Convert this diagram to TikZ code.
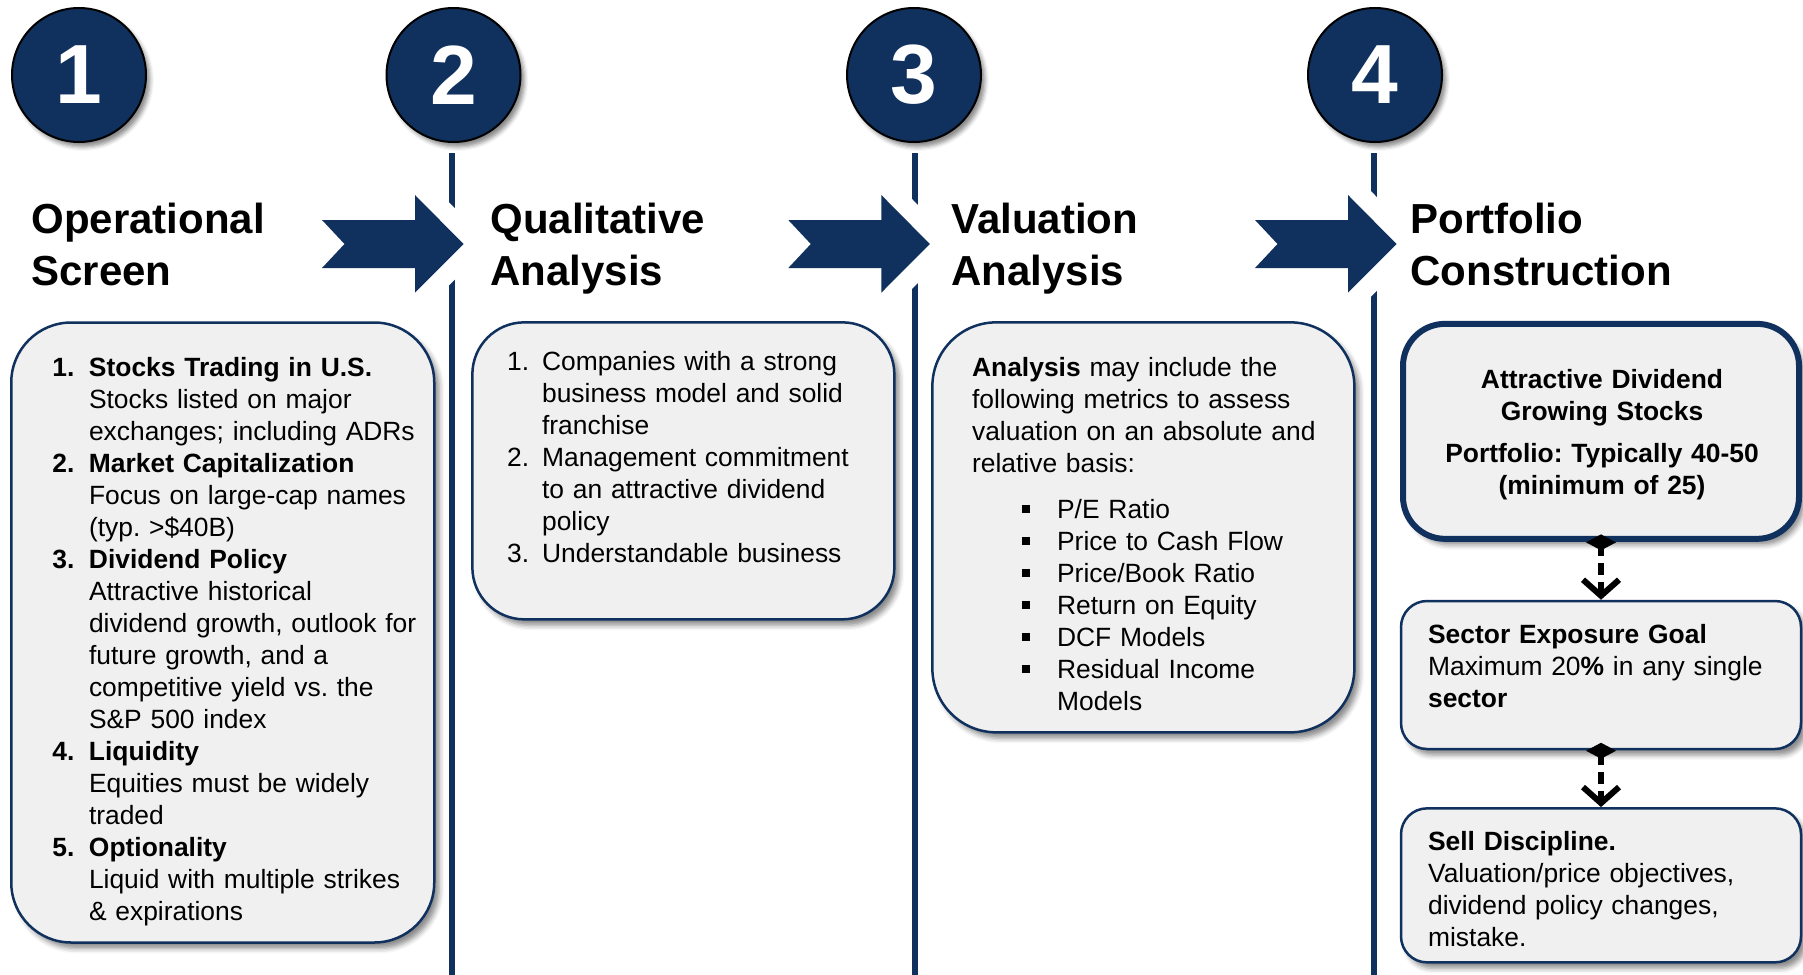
\documentclass[tikz,border=0pt]{standalone}
\usepackage{fontspec}
\setmainfont{Liberation Sans}
\usetikzlibrary{arrows.meta,shadows.blur}

\definecolor{navy}{HTML}{10315E}
\definecolor{panelgray}{HTML}{F0F0F0}

% one list entry: label in a box of width #1, wrapped lines hang under the text
\newcommand{\listline}[3]{\noindent\hangindent=#1\hangafter=1\makebox[#1][l]{#2}#3\par}
\newcommand{\sqbullet}{\hspace{25pt}\raisebox{2.7pt}{\rule{3.9pt}{3.9pt}}}

\tikzset{
  badge/.style={circle, fill=navy, draw=black, line width=1pt, minimum size=67pt, inner sep=0pt,
    text=white, font=\fontsize{42}{42}\selectfont\bfseries,
    blur shadow={shadow xshift=2pt, shadow yshift=-2.5pt, shadow blur radius=2pt, shadow opacity=45}},
  heading/.style={anchor=base west, inner sep=0pt, text width=160pt, align=left,
    font=\fontsize{21}{26}\selectfont\bfseries},
  panel/.style={draw=navy, fill=panelgray, line width=1.25pt, inner sep=0pt,
    blur shadow={shadow xshift=2.5pt, shadow yshift=-3pt, shadow blur radius=2.5pt, shadow opacity=45}},
  body/.style={anchor=base west, inner sep=0pt, text width=200pt, align=left,
    font=\fontsize{13.2}{16}\selectfont\frenchspacing},
  divider/.style={navy, line width=3pt},
  chevron/.style={fill=navy, preaction={draw=white, line width=19pt, line join=round}},
  link/.style={black, line width=3pt, dash pattern=on 6pt off 3.5pt, shorten <=-3.75pt,
    {Diamond[length=8pt,width=15pt,line width=0pt]}-{Straight Barb[length=8pt,width=18pt]}},
}

\begin{document}
\begin{tikzpicture}[x=0.5pt, y=-0.5pt]
  \useasboundingbox (0,0) rectangle (1803,974);

  % column dividers
  \foreach \lx in {452,915,1374}
    \draw[divider] (\lx,153) -- (\lx,980);

  % chevrons between the stages
  \foreach \tx in {322,788.3,1255}
    \fill[chevron] (\tx,220) -- ({\tx+93},220) -- ({\tx+93},195) -- ({\tx+141.5},244)
      -- ({\tx+93},292.7) -- ({\tx+93},268) -- (\tx,268) -- ({\tx+22.5},244) -- cycle;

  % numbered badges
  \node[badge] (b1) at (79,75) {1};
  \node[badge] (b2) at (453.5,75) {2};
  \node[badge] (b3) at (914,75) {3};
  \node[badge] (b4) at (1375,75) {4};

  % stage headings
  \node[heading] (h1) at (31,233) {Operational\\Screen};
  \node[heading] (h2) at (490,233) {Qualitative\\Analysis};
  \node[heading] (h3) at (951,233) {Valuation\\Analysis};
  \node[heading] (h4) at (1410,233) {Portfolio\\Construction};

  % panels
  \node[panel, rounded corners=30pt, minimum width=211.5pt, minimum height=310pt] (screen) at (222.75,632.5) {};
  \node[panel, rounded corners=26pt, minimum width=211pt, minimum height=148.5pt] (quality) at (683.35,470.85) {};
  \node[panel, rounded corners=32pt, minimum width=211pt, minimum height=205pt] (valuation) at (1143.35,527.35) {};
  \node[panel, rounded corners=21pt, line width=3pt, minimum width=198pt, minimum height=107.5pt] (pf) at (1601,431.35) {};
  \node[panel, rounded corners=13pt, minimum width=200pt, minimum height=74pt] (sector) at (1601,675) {};
  \node[panel, rounded corners=13pt, minimum width=200pt, minimum height=77pt] (sell) at (1601,885.35) {};

  \node[body] (screenTxt) at (52,376) {%
    \listline{18.3pt}{\textbf{1.}}{\textbf{Stocks Trading in U.S.}\newline Stocks listed on major\newline exchanges; including ADRs}%
    \listline{18.3pt}{\textbf{2.}}{\textbf{Market Capitalization}\newline Focus on large-cap names\newline (typ. >\$40B)}%
    \listline{18.3pt}{\textbf{3.}}{\textbf{Dividend Policy}\newline Attractive historical\newline dividend growth, outlook for\newline future growth, and a\newline competitive yield vs. the\newline S\&P 500 index}%
    \listline{18.3pt}{\textbf{4.}}{\textbf{Liquidity}\newline Equities must be widely\newline traded}%
    \listline{18.3pt}{\textbf{5.}}{\textbf{Optionality}\newline Liquid with multiple strikes\newline \& expirations}};

  \node[body] (qualityTxt) at (506.7,370.7) {%
    \listline{17.5pt}{1.}{Companies with a strong\newline business model and solid\newline franchise}%
    \listline{17.5pt}{2.}{Management commitment\newline to an attractive dividend\newline policy}%
    \listline{17.5pt}{3.}{Understandable business}};

  \node[body] (valuationTxt) at (971.7,376) {%
    \textbf{Analysis} may include the\newline following metrics to assess\newline
    valuation on an absolute and\newline relative basis:\par\vspace{7pt}%
    \listline{42.5pt}{\sqbullet}{P/E Ratio}%
    \listline{42.5pt}{\sqbullet}{Price to Cash Flow}%
    \listline{42.5pt}{\sqbullet}{Price/Book Ratio}%
    \listline{42.5pt}{\sqbullet}{Return on Equity}%
    \listline{42.5pt}{\sqbullet}{DCF Models}%
    \listline{42.5pt}{\sqbullet}{Residual Income\newline Models}};

  \node[body, anchor=base, text width=190pt, align=center, font=\fontsize{13.2}{16}\selectfont\bfseries\frenchspacing]
    (pfTxt) at (1602,388.3) {Attractive Dividend\\Growing Stocks\\[5.3pt]Portfolio: Typically 40-50\\(minimum of 25)};

  \node[body] (sectorTxt) at (1427.7,643) {%
    \textbf{Sector Exposure Goal}\newline Maximum 20\textbf{\%} in any single\newline \textbf{sector}};

  \node[body] (sellTxt) at (1427.7,850) {%
    \textbf{Sell Discipline.}\newline Valuation/price objectives,\newline dividend policy changes,\newline mistake.};

  % flow inside the last column
  \draw[link] (pf.south) -- (sector.north);
  \draw[link] (sector.south) -- (sell.north);
\end{tikzpicture}
\end{document}
